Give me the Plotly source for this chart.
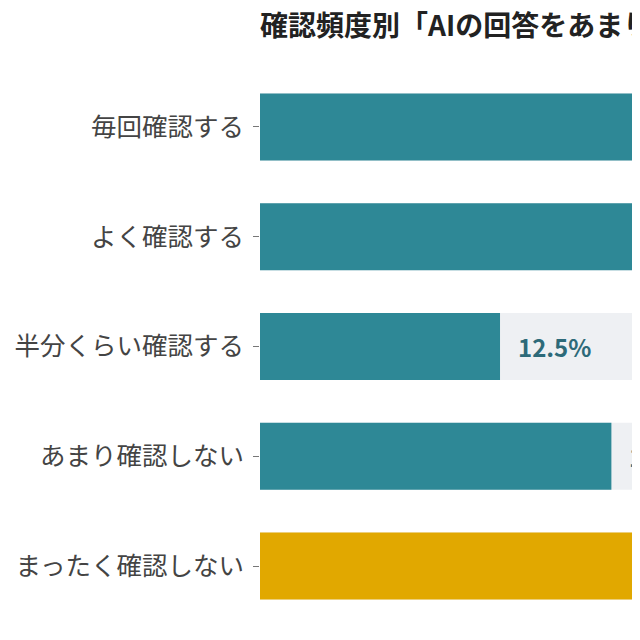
import plotly.graph_objects as go

categories = ["毎回確認する", "よく確認する", "半分くらい確認する", "あまり確認しない", "まったく確認しない"]
values = [31.6, 24.2, 12.5, 18.3, 45.0]
highlight = [False, False, False, False, True]
title_text = "確認頻度別「AIの回答をあまり信頼していない」人の割合"

x_max = 19.79
teal = "#2e8896"
gold = "#e1a800"
bg_gray = "#eef0f3"
label_color = "#2d6a79"
FONT = "Noto Sans CJK JP"

W, H = 632, 614
L, R = 252, 0
colors = [gold if h else teal for h in highlight]

fig = go.Figure()
fig.add_trace(go.Bar(
    y=categories, x=[x_max * 10] * len(categories), orientation="h",
    marker=dict(color=bg_gray, line=dict(width=0)), hoverinfo="skip", showlegend=False,
))
fig.add_trace(go.Bar(
    y=categories, x=values, orientation="h",
    marker=dict(color=colors, line=dict(width=0)), showlegend=False,
))

for c, v in zip(categories, values):
    fig.add_annotation(
        x=v, y=c, xref="x", yref="y", text=f"<b>{v:.1f}%</b>",
        showarrow=False, xanchor="left", yanchor="middle", xshift=16,
        font=dict(family=FONT, size=24, color=label_color),
    )

fig.update_layout(
    width=W, height=H,
    margin=dict(l=L, r=R, t=64, b=1),
    paper_bgcolor="white", plot_bgcolor="white",
    barmode="overlay", bargap=0.39,
    font=dict(family=FONT, color="#444444"),
    title=dict(
        text=f"<b>{title_text}</b>", x=L / W, xanchor="left", xref="container",
        y=1 - 18 / H, yanchor="middle", yref="container",
        font=dict(family=FONT, size=28, color="#222222"),
    ),
    xaxis=dict(range=[0, x_max], visible=False, showgrid=False, zeroline=False),
    yaxis=dict(
        autorange="reversed", ticks="outside", ticklen=6, tickcolor="#777777", tickwidth=1,
        ticklabelstandoff=4,
        tickfont=dict(family=FONT, size=25.5, color="#444444"),
        showgrid=False, showline=False, zeroline=False,
    ),
)

fig.write_html("out.html")
